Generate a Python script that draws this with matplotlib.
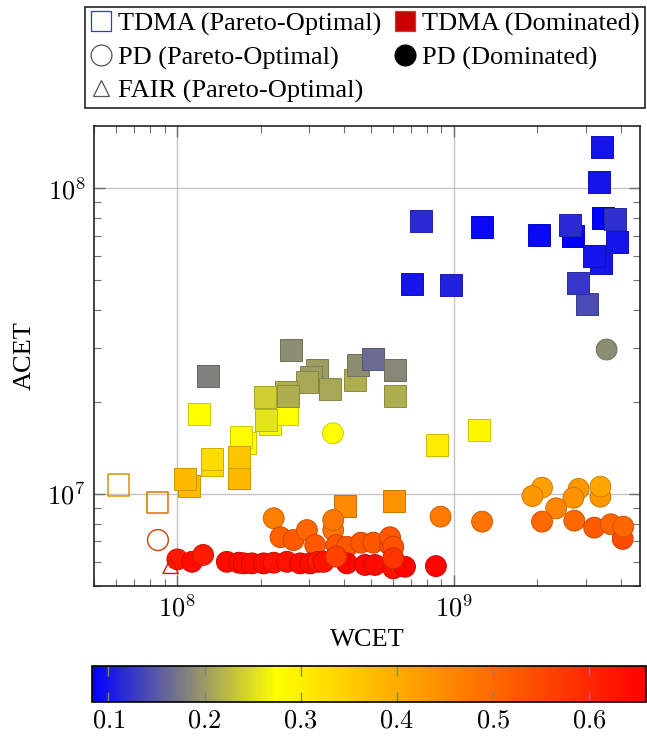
import numpy as np
import matplotlib
matplotlib.use("Agg")
import matplotlib.pyplot as plt
from matplotlib.colors import LinearSegmentedColormap, Normalize
from matplotlib.lines import Line2D
from matplotlib.ticker import FuncFormatter, LogLocator

plt.rcParams['font.family'] = ['Liberation Serif', 'DejaVu Serif']
plt.rcParams['mathtext.fontset'] = 'cm'

# ----------------------------------------------------------------------
# Data
# ----------------------------------------------------------------------

# TDMA, dominated (filled squares)
tdma_dom_wcet = [7.05e8, 9.74e8, 7.57e8, 1.26e9, 2.02e9, 2.70e9, 2.63e9, 3.02e9,
                 2.81e9, 3.41e9, 3.21e9, 3.46e9, 3.83e9, 3.88e9, 3.34e9, 3.43e9,
                 2.58e8, 1.29e8, 3.20e8, 3.04e8, 2.94e8, 3.55e8, 4.37e8, 4.50e8,
                 5.11e8, 6.10e8, 6.10e8, 2.17e8, 2.49e8, 2.48e8, 2.51e8, 2.07e8,
                 2.09e8, 1.20e8, 1.75e8, 1.70e8, 8.65e8, 1.229e9, 1.33e8, 1.33e8,
                 1.67e8, 1.67e8, 1.10e8, 1.065e8, 4.04e8, 6.07e8]
tdma_dom_acet = [4.86e7, 4.84e7, 7.80e7, 7.49e7, 7.02e7, 7.00e7, 7.58e7, 4.20e7,
                 4.89e7, 5.71e7, 6.02e7, 8.00e7, 7.94e7, 6.69e7, 1.05e8, 1.37e8,
                 2.96e7, 2.43e7, 2.54e7, 2.42e7, 2.33e7, 2.21e7, 2.36e7, 2.64e7,
                 2.77e7, 2.54e7, 2.10e7, 1.69e7, 1.83e7, 2.16e7, 2.10e7, 2.07e7,
                 1.75e7, 1.83e7, 1.47e7, 1.54e7, 1.45e7, 1.62e7, 1.24e7, 1.30e7,
                 1.13e7, 1.32e7, 1.065e7, 1.12e7, 9.16e6, 9.51e6]
tdma_dom_val = [0.10, 0.11, 0.115, 0.09, 0.09, 0.085, 0.115, 0.14,
                0.125, 0.10, 0.10, 0.085, 0.12, 0.10, 0.10, 0.10,
                0.19, 0.18, 0.20, 0.20, 0.21, 0.21, 0.215, 0.19,
                0.165, 0.185, 0.215, 0.27, 0.275, 0.215, 0.215, 0.24,
                0.255, 0.275, 0.28, 0.28, 0.305, 0.29, 0.335, 0.33,
                0.38, 0.36, 0.38, 0.38, 0.45, 0.44]

# PD, dominated (filled circles)
pd_dom_wcet = [3.56e9, 3.65e8,
               2.08e9, 1.92e9, 3.38e9, 3.38e9, 2.82e9, 2.70e9, 2.34e9, 2.08e9,
               2.72e9, 3.21e9, 3.69e9, 4.07e9, 4.09e9,
               1.263e9, 8.94e8, 8.60e8,
               2.23e8, 2.36e8, 2.63e8, 2.94e8, 3.15e8, 3.66e8, 3.66e8, 3.76e8,
               4.10e8, 4.61e8, 5.11e8, 5.87e8, 5.87e8, 6.03e8,
               1.00e8, 1.13e8, 1.24e8, 1.51e8, 1.67e8, 1.74e8, 1.86e8, 2.05e8,
               2.23e8, 2.49e8, 2.78e8, 3.02e8, 3.23e8, 3.38e8, 4.10e8, 4.77e8,
               5.18e8, 6.03e8, 6.65e8,
               3.75e8, 6.03e8]
pd_dom_acet = [2.97e7, 1.58e7,
               1.049e7, 9.85e6, 9.80e6, 1.057e7, 1.039e7, 9.72e6, 8.98e6, 8.12e6,
               8.18e6, 7.76e6, 7.96e6, 7.13e6, 7.82e6,
               8.12e6, 8.43e6, 5.81e6,
               8.33e6, 7.22e6, 7.07e6, 7.62e6, 6.81e6, 7.62e6, 8.22e6, 6.81e6,
               6.72e6, 6.93e6, 6.93e6, 6.81e6, 7.22e6, 6.72e6,
               6.11e6, 6.00e6, 6.32e6, 6.00e6, 5.96e6, 5.93e6, 5.93e6, 5.93e6,
               5.96e6, 6.00e6, 5.93e6, 5.93e6, 6.00e6, 6.00e6, 5.93e6, 5.86e6,
               5.86e6, 5.71e6, 5.78e6,
               6.24e6, 6.16e6]
pd_dom_val = [0.19, 0.275,
              0.42, 0.43, 0.43, 0.41, 0.43, 0.44, 0.46, 0.50,
              0.50, 0.52, 0.505, 0.545, 0.505,
              0.485, 0.475, 0.65,
              0.47, 0.515, 0.525, 0.505, 0.525, 0.485, 0.48, 0.53,
              0.53, 0.53, 0.53, 0.54, 0.53, 0.535,
              0.62, 0.64, 0.615, 0.64, 0.64, 0.64, 0.64, 0.64,
              0.63, 0.63, 0.64, 0.64, 0.62, 0.63, 0.65, 0.645,
              0.64, 0.63, 0.65,
              0.56, 0.58]

# Pareto-optimal points (hollow markers)
tdma_po_wcet = [6.11e7, 8.51e7]
tdma_po_acet = [1.07e7, 9.39e6]
tdma_po_val = [0.40, 0.45]

pd_po_wcet = [8.51e7]
pd_po_acet = [7.07e6]
pd_po_val = [0.55]

fair_po_wcet = [9.46e7]
fair_po_acet = [5.82e6]
fair_po_val = [0.62]

# colour scale range
vmin, vmax = 0.083, 0.659

# ----------------------------------------------------------------------
# Plot
# ----------------------------------------------------------------------
cmap = LinearSegmentedColormap.from_list(
    "bgyr", [(0.0, (0, 0, 1)), (1 / 3, (1, 1, 0)), (1.0, (1, 0, 0))])
norm = Normalize(vmin=vmin, vmax=vmax)


def darker(vals, f=0.8):
    cols = cmap(norm(np.asarray(vals)))
    cols[:, :3] *= f
    return cols


fig = plt.figure(figsize=(6.47, 7.36), dpi=100)
ax = fig.add_axes([0.1453, 0.2038, 0.8439, 0.625])

ax.scatter(tdma_dom_wcet, tdma_dom_acet, c=tdma_dom_val, cmap=cmap, norm=norm,
           marker='s', s=250, edgecolors=darker(tdma_dom_val), linewidths=0.7,
           zorder=3)
ax.scatter(pd_dom_wcet, pd_dom_acet, c=pd_dom_val, cmap=cmap, norm=norm,
           marker='o', s=225, edgecolors=darker(pd_dom_val), linewidths=0.7,
           zorder=4)
ax.scatter(tdma_po_wcet, tdma_po_acet, facecolors='none',
           edgecolors=darker(tdma_po_val, 0.85), marker='s', s=230,
           linewidths=1.1, zorder=5)
ax.scatter(pd_po_wcet, pd_po_acet, facecolors='none',
           edgecolors=darker(pd_po_val, 0.85), marker='o', s=225,
           linewidths=1.0, zorder=5)
ax.scatter(fair_po_wcet, fair_po_acet, facecolors='none',
           edgecolors=darker(fair_po_val, 0.85), marker='^', s=120,
           linewidths=1.0, zorder=5)

ax.set_xscale('log')
ax.set_yscale('log')
ax.set_xlim(5e7, 4.7e9)
ax.set_ylim(5e6, 1.6e8)

ax.xaxis.set_major_locator(LogLocator(base=10, numticks=10))
ax.yaxis.set_major_locator(LogLocator(base=10, numticks=10))
ax.xaxis.set_minor_locator(LogLocator(base=10, subs=np.arange(2, 10), numticks=20))
ax.yaxis.set_minor_locator(LogLocator(base=10, subs=np.arange(2, 10), numticks=20))
pow_fmt = FuncFormatter(lambda v, p: r'$10^{%d}$' % round(np.log10(v)))
ax.xaxis.set_major_formatter(pow_fmt)
ax.yaxis.set_major_formatter(pow_fmt)
ax.xaxis.set_minor_formatter(FuncFormatter(lambda v, p: ''))
ax.yaxis.set_minor_formatter(FuncFormatter(lambda v, p: ''))

ax.tick_params(which='both', direction='in', top=True, right=True,
               color='#707070', labelsize=19)
ax.tick_params(which='major', length=8, width=1.0, pad=6)
ax.tick_params(which='minor', length=5, width=0.8)
ax.grid(which='major', color='#c4c4c4', linewidth=1.0, zorder=0)
ax.set_axisbelow(True)
for sp in ax.spines.values():
    sp.set_linewidth(1.2)
    sp.set_color('#222222')

ax.set_xlabel('WCET', fontsize=19, labelpad=6)
ax.set_ylabel('ACET', fontsize=19, labelpad=8)

# colour bar
cax = fig.add_axes([0.1422, 0.0462, 0.8563, 0.0489])
sm = plt.cm.ScalarMappable(cmap=cmap, norm=norm)
cb = fig.colorbar(sm, cax=cax, orientation='horizontal')
cb.set_ticks([0.1, 0.2, 0.3, 0.4, 0.5, 0.6])
cb.ax.xaxis.set_major_formatter(FuncFormatter(lambda v, p: r'$%.1f$' % v))
cax.tick_params(which='major', direction='in', top=True, bottom=True,
                length=7, width=1.0, color='#808080', labelsize=19, pad=6)
cax.minorticks_off()
cb.outline.set_linewidth(1.2)
cb.outline.set_edgecolor('black')

# legend
handles = [
    Line2D([], [], ls='none', marker='s', ms=14, mfc='none', mec='#3030ff', mew=0.9),
    Line2D([], [], ls='none', marker='o', ms=15, mfc='none', mec='#555555', mew=0.9),
    Line2D([], [], ls='none', marker='^', ms=12, mfc='none', mec='#555555', mew=0.9),
    Line2D([], [], ls='none', marker='s', ms=14, mfc='#cc0000', mec='#e03030', mew=0.9),
    Line2D([], [], ls='none', marker='o', ms=15, mfc='black', mec='black', mew=0.9),
]
labels = ['TDMA (Pareto-Optimal)', 'PD (Pareto-Optimal)', 'FAIR (Pareto-Optimal)',
          'TDMA (Dominated)', 'PD (Dominated)']
leg = fig.legend(handles, labels, ncol=2, loc='lower left',
                 bbox_to_anchor=(0.1314, 0.853, 0.866, 0.144), mode='expand',
                 borderaxespad=0, fontsize=19, frameon=True, fancybox=False,
                 edgecolor='#222222', framealpha=1, handlelength=0.8,
                 handletextpad=0.25, labelspacing=0.36, columnspacing=0.5,
                 borderpad=0.2)
leg.get_frame().set_linewidth(1.2)

fig.savefig('out.png', dpi=100)
